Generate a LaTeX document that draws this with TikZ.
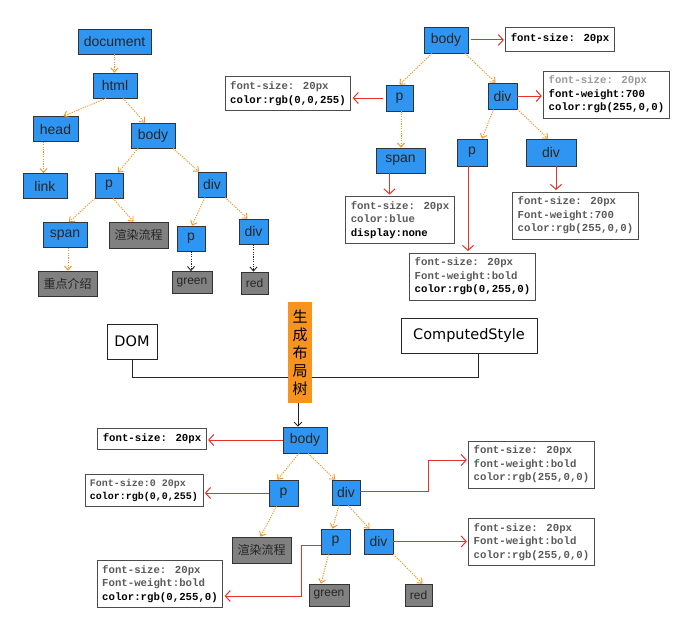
\documentclass[tikz,border=0pt]{standalone}
\usepackage{fontspec}
\setmainfont{Liberation Sans}
\newfontfamily\monof{Liberation Mono}
\newfontfamily\cjkf{Noto Sans CJK SC}
\newfontfamily\handf{DejaVu Sans}
\usetikzlibrary{arrows.meta}
\definecolor{nblue}{HTML}{2E96F2}
\definecolor{ngray}{HTML}{808080}
\definecolor{orng}{HTML}{F7931E}
\definecolor{rd}{HTML}{E63329}
\definecolor{txg}{HTML}{5A5A5A}
\definecolor{ltg}{HTML}{9A9A9A}
\newcommand\pbold[1]{{\color{black}#1}}
\begin{document}
\begin{tikzpicture}[x=1pt,y=-1pt,
 bn/.style={draw=black!80, line width=0.7pt, fill=nblue, font=\fontsize{14}{16}\selectfont, text=black!85, inner sep=0pt, minimum height=25pt},
 gn/.style={draw=black!80, line width=0.7pt, fill=ngray, font=\fontsize{12}{14}\selectfont, text=black!85, inner sep=0pt, minimum height=23pt},
 cj/.style={font=\cjkf\fontsize{12}{14}\selectfont},
 pb/.style={draw=black!70, line width=0.7pt, fill=white, font=\monof\bfseries\fontsize{10.7}{13.5}\selectfont, text=txg, align=left, inner xsep=5pt, inner ysep=5pt},
 hb/.style={draw=black!85, line width=0.8pt, fill=white, font=\handf\fontsize{14.5}{16}\selectfont, text=black, inner sep=0pt, minimum height=35pt},
 oa/.style={draw=orng, line width=0.9pt, dash pattern=on 1.2pt off 1.2pt, -{Straight Barb[length=4pt,width=7pt]}},
 ka/.style={draw=black!85, line width=0.9pt, dash pattern=on 1.2pt off 1.2pt, -{Straight Barb[length=4pt,width=7pt]}},
 ra/.style={draw=rd, line width=1pt, shorten >=1.5pt, -{Straight Barb[length=5pt,width=11pt]}}
]
\fill[white] (0,0) rectangle (687,634);
\useasboundingbox (0,0) rectangle (687,634);

% ---------- left DOM tree ----------
\node[bn,minimum width=73pt] (ldoc) at (114.5,41.5) {document};
\node[bn,minimum width=44pt] (lhtml) at (115,85.5) {html};
\node[bn,minimum width=45pt] (lhead) at (55.5,129) {head};
\node[bn,minimum width=44pt] (lbody) at (153,135.5) {body};
\node[bn,minimum width=44pt] (llink) at (45,186) {link};
\node[bn,minimum width=28pt] (lp) at (109,185.5) {p};
\node[bn,minimum width=28pt] (ldiv) at (212,184.5) {div};
\node[bn,minimum width=44pt] (lspan) at (65,235) {span};
\node[gn,cj,minimum width=59pt,minimum height=26pt] (lrender) at (138.5,235) {渲染流程};
\node[bn,minimum width=28pt] (lp2) at (191,238.5) {p};
\node[bn,minimum width=29pt] (ldiv2) at (253.5,231.5) {div};
\node[gn,cj,minimum width=59pt,minimum height=25pt] (lkey) at (67.5,283.5) {重点介绍};
\node[gn,minimum width=40pt,minimum height=22pt] (lgreen) at (192,282.5) {green};
\node[gn,minimum width=27pt,minimum height=22pt] (lred) at (254.5,283) {red};

\draw[oa] (ldoc.south) -- (ldoc.south |- lhtml.north);
\draw[oa] ([xshift=-9pt]lhtml.south) -- ([xshift=8pt]lhead.north);
\draw[oa] ([xshift=8pt]lhtml.south) -- ([xshift=-8pt]lbody.north);
\draw[oa] ([xshift=-12pt]lhead.south) -- ([xshift=-12pt]lhead.south |- llink.north);
\draw[oa] ([xshift=-15pt]lbody.south) -- ([xshift=9pt]lp.north);
\draw[oa] ([xshift=20pt]lbody.south) -- ([xshift=-13pt]ldiv.north);
\draw[oa] ([xshift=-14pt]lp.south) -- ([xshift=4pt]lspan.north);
\draw[oa] ([xshift=4pt]lp.south) -- ([xshift=-5pt]lrender.north);
\draw[oa] ([xshift=-7pt]ldiv.south) -- ([xshift=1pt]lp2.north);
\draw[oa] ([xshift=13pt]ldiv.south) -- ([xshift=-6pt]ldiv2.north);
\draw[oa] ([xshift=3pt]lspan.south) -- ([xshift=3pt]lspan.south |- lkey.north);
\draw[ka] (lp2.south) -- (lp2.south |- lgreen.north);
\draw[ka] (ldiv2.south) -- (ldiv2.south |- lred.north);

% ---------- right style tree ----------
\node[bn,minimum width=44pt,minimum height=26pt] (rbody) at (446,40) {body};
\node[pb,minimum width=106pt,minimum height=24pt] (rbodybox) at (560,39) {\pbold{font-size: 20px}};
\node[bn,minimum width=27pt,minimum height=26pt] (rp) at (399.5,98) {p};
\node[pb] (rpbox) at (288,93.5) {font-size: 20px\\\pbold{color:rgb(0,0,255)}};
\node[bn,minimum width=49pt] (rspan) at (400.5,160.5) {span};
\node[pb] (rspanbox) at (400,220) {font-size: 20px\\color:blue\\\pbold{display:none}};
\node[bn,minimum width=29pt,minimum height=26pt] (rdiv) at (502.5,96) {div};
\node[pb] (rdivbox) at (606.5,94.5) {\textcolor{ltg}{font-size: 20px}\\\pbold{font-weight:700}\\\pbold{color:rgb(255,0,0)}};
\node[bn,minimum width=30pt,minimum height=27pt] (rp2) at (472,152.5) {p};
\node[bn,minimum width=50pt,minimum height=27pt] (rdiv2) at (551,152.5) {div};
\node[pb] (rdiv2box) at (575.5,215.5) {font-size: 20px\\Font-weight:700\\color:rgb(255,0,0)};
\node[pb] (rp2box) at (472.5,276.5) {font-size: 20px\\Font-weight:bold\\\pbold{color:rgb(0,255,0)}};

\draw[oa] ([xshift=-14pt]rbody.south) -- (rp.north);
\draw[oa] ([xshift=19pt]rbody.south) -- ([xshift=-7pt]rdiv.north);
\draw[oa] ([xshift=1.5pt]rp.south) -- ([xshift=1.5pt]rp.south |- rspan.north);
\draw[oa] ([xshift=-9pt]rdiv.south) -- ([xshift=10pt]rp2.north);
\draw[oa] ([xshift=15pt]rdiv.south) -- ([xshift=-3pt]rdiv2.north);
\draw[ra] ([xshift=3pt]rbody.east) -- (rbody.east -| rbodybox.west);
\draw[ra] (rdiv.east) -- (rdiv.east -| rdivbox.west);
\draw[ra] ([xshift=-3pt]rp.west) -- (rp.west -| rpbox.east);
\draw[ra] ([xshift=-11pt]rspan.south) -- ([xshift=-11pt]rspan.south |- rspanbox.north);
\draw[ra] ([xshift=5pt]rdiv2.south) -- ([xshift=5pt]rdiv2.south |- rdiv2box.north);
\draw[ra] ([xshift=-4pt]rp2.south) -- ([xshift=-4pt]rp2.south |- rp2box.north);

% ---------- merge ----------
\node[hb,minimum width=50pt] (dom) at (132,341.5) {DOM};
\node[hb,minimum width=136pt] (cs) at (469,335.5) {ComputedStyle};
\draw[black!85, line width=0.8pt] (dom.south) -- ++(0,18) -| ([xshift=9pt]cs.south);
\node[fill=orng, minimum width=24pt, minimum height=101pt, inner sep=0pt, align=center, font=\cjkf\fontsize{15}{18}\selectfont] (layout) at (300,352.5) {生\\成\\布\\局\\树};

% ---------- layout tree ----------
\node[bn,minimum width=44pt,minimum height=26pt] (bbody) at (305,440) {body};
\node[pb,minimum width=108pt,minimum height=21pt] (bbodybox) at (152,438.5) {\pbold{font-size: 20px}};
\node[bn,minimum width=29pt,minimum height=26pt] (bp) at (283.5,493) {p};
\node[pb,font=\monof\bfseries\fontsize{10}{12.5}\selectfont] (bpbox) at (144,490.5) {Font-size:0 20px\\\pbold{color:rgb(0,0,255)}};
\node[bn,minimum width=28pt] (bdiv) at (346,492.5) {div};
\node[gn,cj,minimum width=59pt,minimum height=26pt] (brender) at (261.5,550) {渲染流程};
\node[bn,minimum width=29pt] (bp2) at (335.5,541.5) {p};
\node[bn,minimum width=29pt] (bdiv2) at (378.5,541.5) {div};
\node[gn,minimum width=40pt,minimum height=22pt] (bgreen) at (329,595) {green};
\node[gn,minimum width=27pt,minimum height=22pt] (bred) at (418.5,595) {red};
\node[pb] (bp2box) at (160,584) {font-size: 20px\\Font-weight:bold\\\pbold{color:rgb(0,255,0)}};
\node[pb] (bdivbox) at (531.5,464.5) {font-size: 20px\\font-weight:bold\\color:rgb(255,0,0)};
\node[pb] (bdiv2box) at (531.5,542) {font-size: 20px\\Font-weight:bold\\color:rgb(255,0,0)};

\draw[black!85, line width=0.9pt, -{Straight Barb[length=4pt,width=8pt]}] ([xshift=-2pt]layout.south) -- ([xshift=-2pt]layout.south |- bbody.north);
\draw[ra] (bbody.west) -- (bbody.west -| bbodybox.east);
\draw[ra] (bp.west) -- (bp.west -| bpbox.east);
\draw[oa] ([xshift=-6pt]bbody.south) -- ([xshift=-6pt]bp.north);
\draw[oa] ([xshift=3pt]bbody.south) -- ([xshift=-11pt]bdiv.north);
\draw[oa] ([xshift=-7pt]bp.south) -- ([xshift=-1pt]brender.north);
\draw[oa] ([xshift=-7pt]bdiv.south) -- ([xshift=-3pt]bp2.north);
\draw[oa] ([xshift=2pt]bdiv.south) -- ([xshift=-9pt]bdiv2.north);
\draw[oa] ([xshift=-7pt]bp2.south) -- ([xshift=-8pt]bgreen.north);
\draw[oa] (bdiv2.south east) -- ([xshift=4pt]bred.north);
\draw[ra] ([yshift=-3.5pt]bp2.west) -- ++(-19,0) |- ([yshift=-12pt]bp2box.east);
\draw[ra] ([yshift=1pt]bdiv.east) -- ++(68,0) |- ([yshift=4.5pt]bdivbox.west);
\draw[ra] (bdiv2.east) -- (bdiv2.east -| bdiv2box.west);
\end{tikzpicture}
\end{document}
